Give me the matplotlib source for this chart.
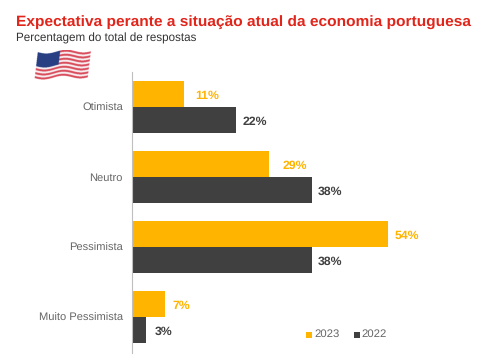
import matplotlib
matplotlib.use('Agg')
import matplotlib.pyplot as plt
import numpy as np

plt.rcParams['font.family'] = ['Liberation Sans', 'DejaVu Sans']
plt.rcParams['text.hinting'] = 'none'

categories = ['Otimista', 'Neutro', 'Pessimista', 'Muito Pessimista']
values_2023 = [11, 29, 54, 7]
values_2022 = [22, 38, 38, 3]

W, H = 478, 364
fig = plt.figure(figsize=(W / 100, H / 100), dpi=100)
ax = fig.add_axes([132 / W, 1 - 353 / H, 340 / W, 281 / H])

# largura por ponto percentual: 54% -> 256 px
ax.set_xlim(0, 340 / (256 / 54))
y = np.arange(len(categories))
ax.set_ylim(3.514, -0.5)
h = 26 / 70
ax.barh(y - h / 2, values_2023, h, color='#FFB400')
ax.barh(y + h / 2, values_2022, h, color='#404040')

# distancia em px entre a barra e o rotulo
gap_2023 = [11, 13, 7, 7]
gap_2022 = [6, 6, 6, 8]
for i in range(len(categories)):
    ax.annotate('{}%'.format(values_2023[i]), (values_2023[i], y[i] - h / 2), xytext=(gap_2023[i] * 0.72, -1),
                textcoords='offset points', color='#FFB400', fontsize=8.8, fontweight='bold', ha='left', va='center')
    ax.annotate('{}%'.format(values_2022[i]), (values_2022[i], y[i] + h / 2), xytext=(gap_2022[i] * 0.72, -1),
                textcoords='offset points', color='#404040', fontsize=8.8, fontweight='bold', ha='left', va='center')

for s in ['top', 'right', 'bottom']:
    ax.spines[s].set_visible(False)
ax.spines['left'].set_color('#BFBFBF')
ax.set_xticks([])
ax.set_yticks(y)
ax.set_yticklabels(categories, fontsize=8.0, color='#666666')
ax.tick_params(axis='y', length=0, pad=6.5)

fig.text(16 / W, 1 - 23 / H, 'Expectativa perante a situação atual da economia portuguesa',
         fontsize=11.15, fontweight='bold', color='#E1251B', va='center')
fig.text(16 / W, 1 - 38 / H, 'Percentagem do total de respostas', fontsize=8.4, color='#333333', va='center')

fig.add_artist(plt.Rectangle((306 / W, 1 - 338 / H), 6 / W, 6 / H, transform=fig.transFigure, color='#FFB400', lw=0))
fig.add_artist(plt.Rectangle((354 / W, 1 - 338 / H), 6 / W, 6 / H, transform=fig.transFigure, color='#404040', lw=0))
fig.text(314 / W, 1 - 334 / H, '2023', fontsize=8.2, color='#666666', va='center')
fig.text(361 / W, 1 - 334 / H, '2022', fontsize=8.2, color='#666666', va='center')

# bandeira dos EUA (imagem decorativa ondulada)
fw, fh = 58, 34
yy, xx = np.mgrid[0:fh * 4, 0:fw * 4] / 4.0
u = (xx - 2 + (yy - 16) * 0.12) / 53.0
top = 2 - 1.5 * u + 1.6 * np.sin(u * 9.0)
v = (yy - top) / 26.0
flag = np.ones(xx.shape + (3,))
inside = (u >= 0) & (u <= 1) & (v >= 0) & (v <= 1)
stripe = np.floor(v * 13).astype(int) % 2 == 0
flag[inside & stripe] = [0.85, 0.30, 0.36]
flag[inside & ~stripe] = [0.97, 0.93, 0.94]
flag[inside & (u < 0.42) & (v < 0.54)] = [0.16, 0.25, 0.52]
ax_flag = fig.add_axes([34 / W, 1 - 84 / H, fw / W, fh / H])
ax_flag.imshow(flag, interpolation='antialiased', aspect='auto')
ax_flag.axis('off')

plt.savefig('out.png', dpi=100)
